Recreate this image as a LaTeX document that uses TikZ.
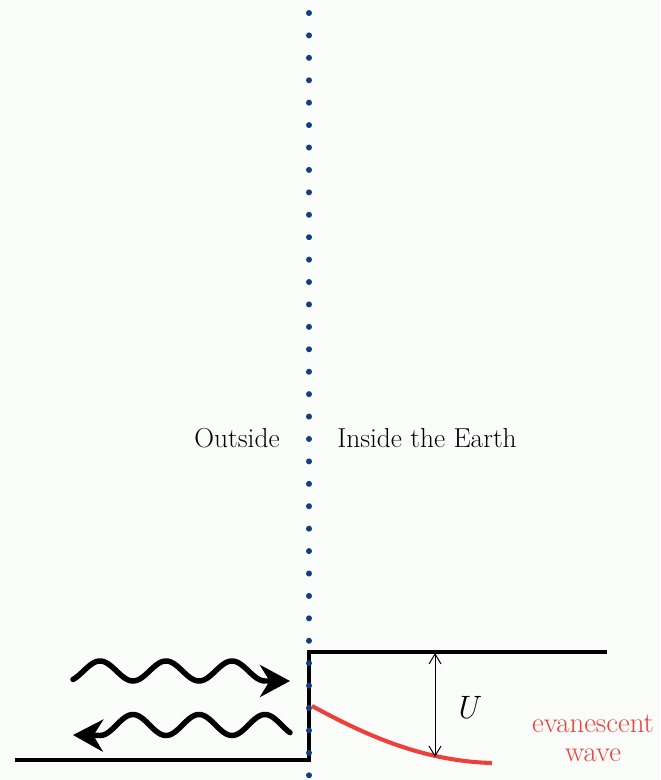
\documentclass[tikz,border=0pt]{standalone}
\usepackage{tikz}
\usetikzlibrary{arrows.meta, positioning}
\definecolor{dotblue}{RGB}{20,62,128}
\definecolor{evared}{RGB}{238,64,58}
\definecolor{paper}{RGB}{250,252,250}

\begin{document}
\begin{tikzpicture}[
  x=0.025cm, y=-0.025cm,
  lbl/.style={font=\fontsize{19.5}{22}\selectfont, inner sep=0pt, anchor=base},
  evl/.style={font=\fontsize{20.5}{23}\selectfont, inner sep=0pt, anchor=base, text=evared},
  wall/.style={draw=black, line width=2.2pt},
  wv/.style={draw=black, line width=3.9pt, line cap=round,
             -{Stealth[length=7.5mm, width=8mm, inset=2.4mm]}},
  decay/.style={draw=evared, line width=2.9pt},
  gap/.style={{Straight Barb[length=2.5mm, width=3mm]}-{Straight Barb[length=2.5mm, width=3mm]},
              line width=0.7pt}
]
\fill[paper] (0,0) rectangle (660,780);
\useasboundingbox (0,0) rectangle (660,780);

% ---------------------------------------------- potential step
\coordinate (wl) at (15,760);
\coordinate (wb) at (309,760);
\coordinate (wt) at (309,652);
\coordinate (wr) at (607,652);
\draw[wall] (wl) -- (wb) -- (wt) -- (wr);

% ---------------------------------------------- surface of the Earth
\foreach \k in {0,...,34}
  \fill[dotblue] (309,{13+22.42*\k}) circle (0.075cm);

\node[lbl] (outl) at (237,447) {Outside};
\node[lbl] (inl)  at (427,447) {Inside the Earth};

% ---------------------------------------------- incoming and reflected waves
\coordinate (inc) at (290,681);
\coordinate (refl) at (73,735);
\draw[wv] plot[domain=73:265, samples=120] (\x, {671+10*cos(5.4545*(\x-67))}) -- (inc);
\draw[wv] plot[domain=290:100, samples=120] (\x, {725+10.5*cos(5.4545*(\x-100))}) -- (refl);

% ---------------------------------------------- evanescent wave
\coordinate (ds) at (312,706);
\coordinate (de) at (492,763);
\draw[decay] (ds) .. controls (362,733) and (420,761) .. (de);

\node[evl] (eva1) at (593,732) {evanescent};
\node[evl] (eva2) at (593,761) {wave};

% ---------------------------------------------- barrier height
\coordinate (utop) at (435,653);
\coordinate (ubot) at (435,757);
\draw[gap] (utop) -- (ubot);
\node[font=\fontsize{23}{25}\selectfont\itshape, inner sep=0pt] (ulbl) at (466,708) {U};

\end{tikzpicture}
\end{document}
